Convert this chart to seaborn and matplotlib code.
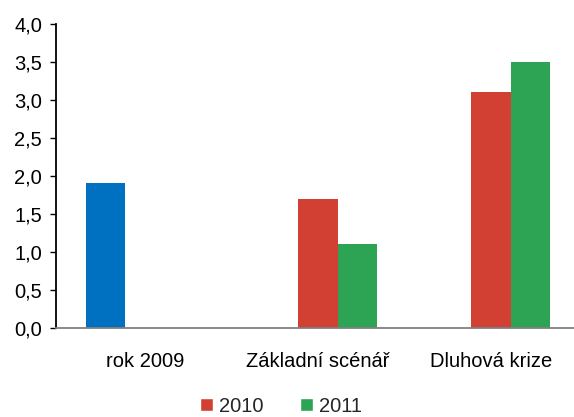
import matplotlib
matplotlib.use("Agg")
import matplotlib.pyplot as plt
from matplotlib.patches import Patch
from matplotlib.ticker import FuncFormatter
import pandas as pd
import seaborn as sns

# Categories and yearly values
categories = ["rok 2009", "Základní scénář", "Dluhová krize"]
years = ["2009", "2010", "2011"]
values_2009 = [1.9, None, None]
values_2010 = [None, 1.7, 3.1]
values_2011 = [None, 1.1, 3.5]
colors = {"2009": "#0070C0", "2010": "#D14033", "2011": "#2CA453"}

rows = []
for year, vals in zip(years, [values_2009, values_2010, values_2011]):
    for cat, v in zip(categories, vals):
        rows.append({"kategorie": cat, "rok": year, "hodnota": v})
df = pd.DataFrame(rows)

sns.set_style("white")
plt.rcParams["font.family"] = ["Liberation Sans", "DejaVu Sans"]

fig = plt.figure(figsize=(5.74, 4.17), dpi=100)
ax = fig.add_axes([56 / 574, 1 - 327.7 / 417, 1 - 56 / 574, (327.7 - 24) / 417])

sns.barplot(data=df, x="kategorie", y="hodnota", hue="rok", order=categories,
            hue_order=years, palette=colors, width=0.685, gap=0,
            saturation=1, dodge=True, legend=False, ax=ax, edgecolor="none")

ax.set_ylim(0, 4.0)
ax.set_xlim(-0.514, 2.48)
ax.set_yticks([i * 0.5 for i in range(9)])
ax.yaxis.set_major_formatter(FuncFormatter(lambda v, p: f"{v:.1f}".replace(".", ",")))
ax.set_xlabel("")
ax.set_ylabel("")

for s in ["top", "right"]:
    ax.spines[s].set_visible(False)
ax.spines["left"].set_color("black")
ax.spines["left"].set_linewidth(1.3)
ax.spines["bottom"].set_color("#808080")
ax.spines["bottom"].set_linewidth(1.3)

ax.tick_params(axis="y", which="major", left=True, length=4, width=1,
               color="black", labelsize=14.5, pad=6, direction="out")
ax.tick_params(axis="x", bottom=False, labelsize=14.5, pad=14)
for lab in ax.get_xticklabels() + ax.get_yticklabels():
    lab.set_color("black")

handles = [Patch(facecolor=colors["2010"], label="2010"),
           Patch(facecolor=colors["2011"], label="2011")]
fig.legend(handles=handles, loc="lower center", bbox_to_anchor=(0.49, -0.04),
           ncol=2, frameon=False, fontsize=14.5, handlelength=0.65,
           handleheight=0.65, handletextpad=0.3, columnspacing=1.8)

fig.savefig("out.png", dpi=100, facecolor="white")
